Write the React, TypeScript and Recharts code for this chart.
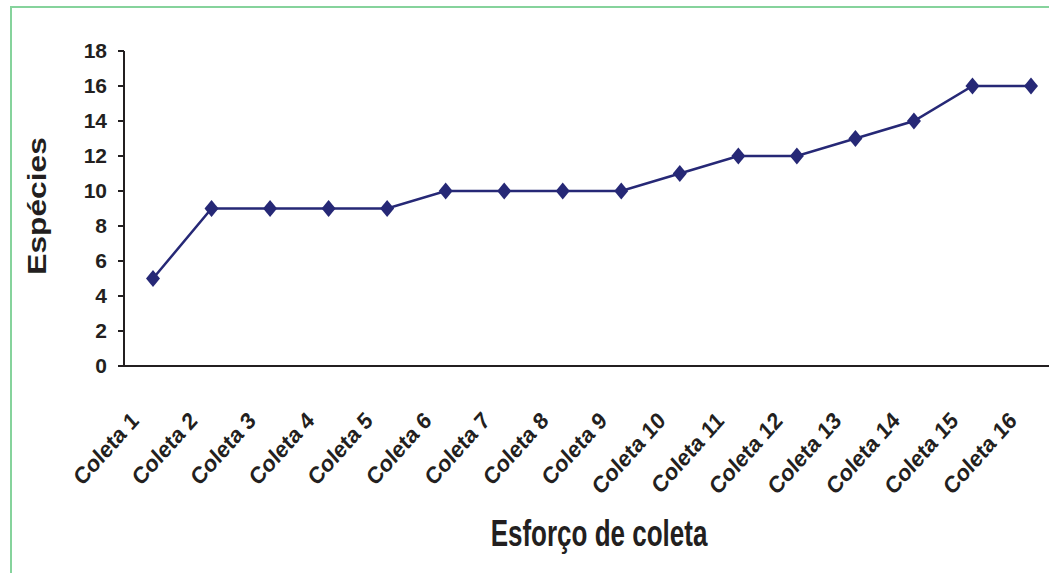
import React from "react";
import { LineChart, Line, XAxis, YAxis } from "recharts";

// --- Data ---

const coletas = [
  "Coleta 1", "Coleta 2", "Coleta 3", "Coleta 4", "Coleta 5", "Coleta 6",
  "Coleta 7", "Coleta 8", "Coleta 9", "Coleta 10", "Coleta 11", "Coleta 12",
  "Coleta 13", "Coleta 14", "Coleta 15", "Coleta 16",
];
const especies = [5, 9, 9, 9, 9, 10, 10, 10, 10, 11, 12, 12, 13, 14, 16, 16];
const yTicks = [0, 2, 4, 6, 8, 10, 12, 14, 16, 18];

const data = coletas.map((c, i) => ({ coleta: c, especies: especies[i] }));

const NAVY = "#262876";
const INK = "#231f20";
const FONT = "'Liberation Sans', Arial, sans-serif";

// --- Parts ---

const Diamond = (props: any) => {
  const { cx, cy } = props;
  if (cx == null || cy == null) return null;
  const w = 7;
  const h = 8.5;
  return (
    <polygon
      points={`${cx},${cy - h} ${cx + w},${cy} ${cx},${cy + h} ${cx - w},${cy}`}
      fill={NAVY}
    />
  );
};

const XTick = (props: any) => {
  const { x, y, payload } = props;
  const ax = x - 13;
  const ay = y + 48;
  return (
    <text
      x={0}
      y={0}
      textAnchor="end"
      transform={`translate(${ax}, ${ay}) scale(1,1.12) rotate(-45)`}
      fontFamily={FONT}
      fontWeight="bold"
      fontSize={21}
      fill={INK}
    >
      {payload.value}
    </text>
  );
};

const App = () => {
  return (
    <div
      style={{
        position: "absolute",
        left: 0,
        top: 0,
        width: 1049,
        height: 573,
        overflow: "hidden",
        background: "#fff",
      }}
    >
      <div
        style={{
          position: "absolute",
          left: 10,
          top: 6,
          width: 1100,
          height: 600,
          borderTop: "2px solid #86d39c",
          borderLeft: "2px solid #86d39c",
        }}
      />
      <div style={{ position: "absolute", left: 0, top: 0 }}>
        <LineChart
          width={1075}
          height={573}
          data={data}
          margin={{ top: 51, right: 15, bottom: 0, left: 0 }}
        >
          <XAxis
            dataKey="coleta"
            height={207}
            padding={{ left: 29, right: 29 }}
            tickLine={false}
            axisLine={{ stroke: INK, strokeWidth: 2 }}
            tick={<XTick />}
            interval={0}
            label={{
              content: () => (
                <text
                  transform="translate(599,546) scale(1,1.4)"
                  textAnchor="middle"
                  fontFamily={FONT}
                  fontWeight="bold"
                  fontSize={26}
                  fill={INK}
                >
                  Esforço de coleta
                </text>
              ),
            }}
          />
          <YAxis
            width={124}
            domain={[0, 18]}
            ticks={yTicks}
            interval={0}
            tickSize={6}
            tickMargin={11}
            tickLine={{ stroke: INK, strokeWidth: 2 }}
            axisLine={{ stroke: INK, strokeWidth: 2 }}
            tick={{
              fill: INK,
              fontSize: 21,
              fontWeight: "bold",
              fontFamily: FONT,
            }}
            label={{
              content: () => (
                <text
                  transform="translate(46,206) scale(1,1.22) rotate(-90)"
                  textAnchor="middle"
                  fontFamily={FONT}
                  fontWeight="bold"
                  fontSize={26}
                  fill={INK}
                >
                  Espécies
                </text>
              ),
            }}
          />
          <Line
            type="linear"
            dataKey="especies"
            stroke={NAVY}
            strokeWidth={2.5}
            dot={<Diamond />}
            activeDot={false}
            isAnimationActive={false}
          />
        </LineChart>
      </div>
    </div>
  );
};

export default App;
